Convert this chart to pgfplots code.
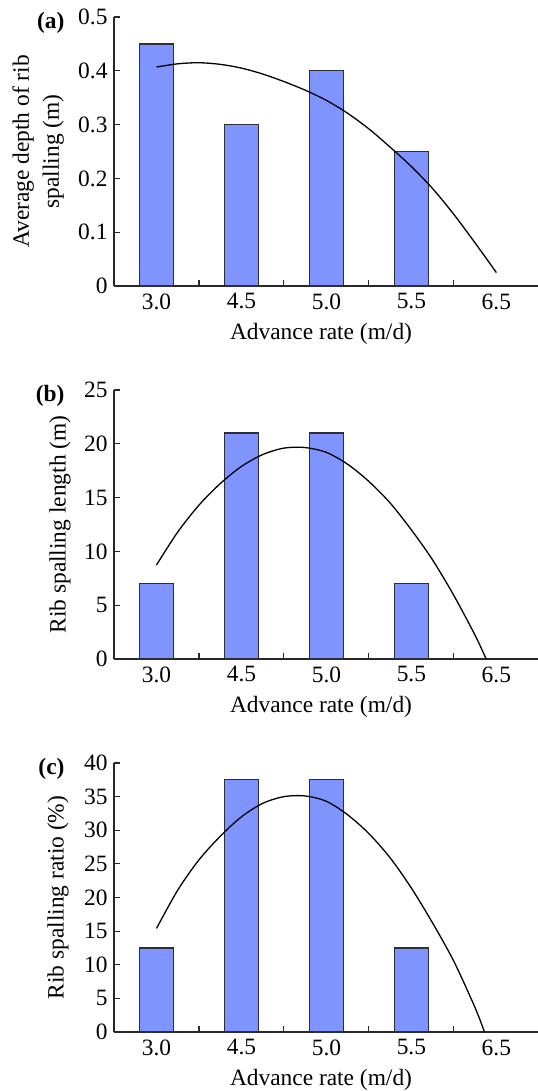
\documentclass[border=0pt]{standalone}
\usepackage{pgfplots}
\pgfplotsset{compat=1.18}
\usepackage{fontspec}
\setmainfont{Liberation Serif}
\definecolor{barfill}{RGB}{128,148,255}
\definecolor{barline}{RGB}{45,45,55}
\definecolor{axline}{RGB}{40,40,40}
\newcommand{\figfont}{\fontsize{23.5}{27}\selectfont}
\pgfplotsset{
  panel/.style={
    scale only axis, width=424bp, height=269bp, anchor=south west,
    xmin=-0.5, xmax=4.49, ymin=0,
    axis x line=bottom, axis y line=left,
    axis line style={-, axline, line width=1.2bp},
    tick align=inside, major tick length=6bp,
    tick style={axline, line width=1.1bp},
    xtick={0.5,1.5,2.5,3.5}, xticklabels={,,,},
    extra x ticks={0,1,2,3,4},
    extra x tick labels={3.0,4.5,5.0,5.5,6.5},
    extra x tick style={major tick length=0pt},
    tick label style={font=\figfont},
    xticklabel style={yshift=-4bp},
    yticklabel style={xshift=-3bp},
    xlabel={Advance rate (m/d)},
    every axis x label/.style={at={(axis description cs:0.5,0)}, anchor=center, yshift=-48bp, xshift=-5bp, font=\figfont},
    clip=false,
  },
  bars/.style={ybar, bar width=34bp, fill=barfill, draw=barline, line width=1.3bp},
  fit/.style={black, line width=1.3bp, smooth, mark=none},
}
\begin{document}
\begin{tikzpicture}
% panel (a)
\begin{axis}[panel, at={(114bp,-286bp)}, ymax=0.5,
  ytick={0,0.1,0.2,0.3,0.4,0.5}, yticklabels={0,0.1,0.2,0.3,0.4,0.5},
  ylabel={Average depth of rib\\spalling (m)},
  every axis y label/.style={at={(axis description cs:-0.179,0.5)}, rotate=90, anchor=center, align=center, font=\fontsize{23.5}{30}\selectfont}]
\addplot[bars] coordinates {(0,0.45) (1,0.30) (2,0.40) (3,0.25)};
\addplot[fit] coordinates {(0,0.407) (0.25,0.413) (0.5,0.415) (0.75,0.412) (1,0.405) (1.25,0.394) (1.5,0.380) (1.75,0.364) (2,0.345) (2.25,0.321) (2.5,0.292) (2.75,0.258) (3,0.222) (3.25,0.181) (3.5,0.133) (3.75,0.080) (4,0.025)};
\node[anchor=base east, font=\figfont\bfseries] at (rel axis cs:0,1) [xshift=-46bp, yshift=-11bp] {(a)};
\end{axis}
% panel (b)
\begin{axis}[panel, at={(114bp,-659bp)}, ymax=25,
  ytick={0,5,10,15,20,25}, yticklabels={0,5,10,15,20,25},
  ylabel={Rib spalling length (m)},
  every axis y label/.style={at={(axis description cs:-0.127,0.5)}, rotate=90, anchor=center, font=\figfont}]
\addplot[bars] coordinates {(0,7) (1,21) (2,21) (3,7)};
\addplot[fit] coordinates {(0,8.74) (0.25,11.8) (0.5,14.3) (0.75,16.3) (1,17.9) (1.25,19.0) (1.5,19.6) (1.75,19.65) (2,19.2) (2.25,18.1) (2.5,16.5) (2.75,14.5) (3,12.0) (3.25,9.2) (3.5,5.9) (3.75,2.2) (3.88,0)};
\node[anchor=base east, font=\figfont\bfseries] at (rel axis cs:0,1) [xshift=-46bp, yshift=-11bp] {(b)};
\end{axis}
% panel (c)
\begin{axis}[panel, at={(114bp,-1032bp)}, ymax=40,
  ytick={0,5,10,15,20,25,30,35,40}, yticklabels={0,5,10,15,20,25,30,35,40},
  ylabel={Rib spalling ratio (\%)},
  every axis y label/.style={at={(axis description cs:-0.132,0.5)}, rotate=90, anchor=center, font=\figfont}]
\addplot[bars] coordinates {(0,12.5) (1,37.5) (2,37.5) (3,12.5)};
\addplot[fit] coordinates {(0,15.4) (0.25,21.1) (0.5,25.6) (0.75,29.1) (1,32.0) (1.25,34.0) (1.5,35.0) (1.75,35.1) (2,34.3) (2.25,32.3) (2.5,29.5) (2.75,25.9) (3,21.4) (3.25,16.2) (3.5,10.5) (3.75,3.6) (3.86,0)};
\node[anchor=base east, font=\figfont\bfseries] at (rel axis cs:0,1) [xshift=-46bp, yshift=-11bp] {(c)};
\end{axis}
\pgfresetboundingbox
\path (0,0) rectangle (538bp,-1091bp);
\end{tikzpicture}
\end{document}
